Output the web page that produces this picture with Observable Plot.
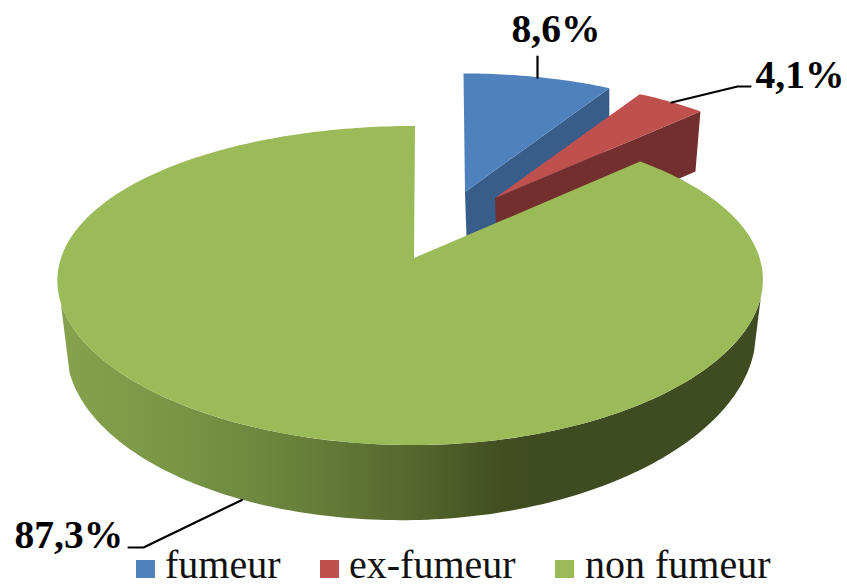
<!DOCTYPE html>
<html>
<head>
<meta charset="utf-8">
<script src="https://cdn.jsdelivr.net/npm/d3@7"></script>
<script src="https://cdn.jsdelivr.net/npm/@observablehq/plot@0.6"></script>
<style>
html,body{margin:0;padding:0;background:#fff}
#legend{position:relative;height:32px;font-family:"Liberation Serif",serif;font-size:40px;color:#111}
#legend i{position:absolute;top:4px;width:19px;height:18px}
#legend span{position:absolute;top:-7px;height:32px;line-height:32px;white-space:nowrap}
</style>
</head>
<body>
<div id="chart"></div>
<div id="legend"></div>
<script>
// ---- data
const categories = ["fumeur", "ex-fumeur", "non fumeur"];
const shares = [8.6, 4.1, 87.3];
const labels = ["8,6%", "4,1%", "87,3%"];

// ---- styles
const topColors = ["#4F81BD", "#C0504D", "#9BBB59"];
const faceColors = ["#385D8A", "#722F2D", null];
const wallStops = [68, 140, 250, 330, 420, 500, 535];
const wallColors = ["#85A14C", "#7E9A48", "#6F8A40", "#637A37", "#53652C", "#434F22", "#3F4B20"];

// ---- projection of each exploded slice (perspective disc)
const W = 847, H = 556, Q = 0.1724, QX = 0.14;
const views = [
  {ax: 465, ay: 192, k: 317, kl: 317, m: 139, sk: -1.5, depth: 60},
  {ax: 495, ay: 198, k: 315, kl: 315, m: 139, sk: 0, depth: 60},
  {ax: 414, ay: 258, k: 345.6, kl: 353, m: 154.8, sk: 1, depth: 60}
];
const rad = d => d * Math.PI / 180;
function rim(view, deg) {
  const u = Math.sin(rad(deg)), v = Math.cos(rad(deg));
  return {
    x: view.ax + (u < 0 ? view.kl : view.k) * u / (1 + QX * v) + view.sk * v,
    y: view.ay - view.m * v / (1 + Q * v),
    u, v
  };
}
// lower rim of the large slice
function lower(p) {
  return {x: p.x + 1 - 8 * p.u, y: p.y + 57.3 - 7.65 * p.u - 17.7 * p.v};
}

// slice angle ranges, clockwise from the top
let acc = 0;
const ranges = shares.map(s => { const a0 = acc; acc += s * 3.6; return [a0, acc]; });
const sampled = (a0, a1, n) => d3.range(n + 1).map(i => a0 + (a1 - a0) * i / n);

const tops = ranges.flatMap(([a0, a1], i) =>
  sampled(a0, a1, Math.ceil(a1 - a0)).map(a => {
    const p = rim(views[i], a);
    return {i, x1: p.x, y1: p.y, x2: views[i].ax, y2: views[i].ay, c: topColors[i]};
  })
);

// radial inner faces of the two small slices (trailing edge)
const faces = [0, 1].flatMap(i => {
  const v = views[i], e = rim(v, ranges[i][1]);
  return [
    {i, x1: v.ax, y1: v.ay, x2: v.ax + 2, y2: v.ay + v.depth, c: faceColors[i]},
    {i, x1: e.x, y1: e.y, x2: e.x - (i ? 5 : 0), y2: e.y + v.depth, c: faceColors[i]}
  ];
});

// outer wall of the large slice: one band painted with a horizontal gradient
const wall = sampled(104, 254, 150).map(a => {
  const p = rim(views[2], a), l = lower(p);
  return {x1: p.x, y1: p.y, x2: l.x, y2: l.y};
});
const wallGradient = () => {
  const svgNS = "http://www.w3.org/2000/svg";
  const defs = document.createElementNS(svgNS, "defs");
  const g = document.createElementNS(svgNS, "linearGradient");
  g.setAttribute("id", "wallShade");
  g.setAttribute("gradientUnits", "userSpaceOnUse");
  g.setAttribute("x1", wallStops[0]); g.setAttribute("x2", wallStops[wallStops.length - 1]);
  g.setAttribute("y1", 0); g.setAttribute("y2", 0);
  wallStops.forEach((s, i) => {
    const st = document.createElementNS(svgNS, "stop");
    st.setAttribute("offset", (s - wallStops[0]) / (wallStops[wallStops.length - 1] - wallStops[0]));
    st.setAttribute("stop-color", wallColors[i]);
    g.append(st);
  });
  defs.append(g);
  return defs;
};

// leader lines: start on the slice, elbow next to the label
const leaderShift = [0, 0, 3];
const anchorAt = i => rim(views[i], (ranges[i][0] + ranges[i][1]) / 2 + leaderShift[i]);
const elbows = [[[537, 56], [537, 56]], [[737, 86], [750, 86]], [[143, 547], [128, 547]]];
const anchors = [
  {x: elbows[0][0][0], y: anchorAt(0).y},
  anchorAt(1),
  lower(anchorAt(2))
];
const leaders = anchors.flatMap((p, i) => [
  {i, x: p.x, y: p.y}, ...elbows[i].map(e => ({i, x: e[0], y: e[1]}))
]);
const labelPlaces = [[511, 41], [755, 87], [14, 547]];
const labelRows = labels.map((t, i) => ({t, x: labelPlaces[i][0], y: labelPlaces[i][1]}));

const band = (data, z) => Plot.area(data, {x1: "x1", y1: "y1", x2: "x2", y2: "y2", z, fill: "c", curve: "linear"});

const chart = Plot.plot({
  width: W, height: H,
  marginTop: 0, marginRight: 0, marginBottom: 0, marginLeft: 0,
  x: {domain: [0, W], range: [0, W], axis: null},
  y: {domain: [0, H], range: [0, H], axis: null},
  color: {type: "identity"},
  style: {background: "#fff", overflow: "visible"},
  marks: [
    wallGradient,
    band(faces.filter(d => d.i === 0), "i"),
    band(tops.filter(d => d.i === 0), "i"),
    band(faces.filter(d => d.i === 1), "i"),
    band(tops.filter(d => d.i === 1), "i"),
    Plot.area(wall, {x1: "x1", y1: "y1", x2: "x2", y2: "y2", fill: "url(#wallShade)", curve: "linear"}),
    band(tops.filter(d => d.i === 2), "i"),
    Plot.line(leaders, {x: "x", y: "y", z: "i", stroke: "#000", strokeWidth: 2.2, curve: "linear"}),
    Plot.text(labelRows, {
      x: "x", y: "y", text: "t", textAnchor: "start", lineAnchor: "bottom",
      fontFamily: "Liberation Serif", fontWeight: "bold", fontSize: 39.5, fill: "#000"
    })
  ]
});
document.getElementById("chart").append(chart);
chart.style.display = "block";

// legend below the plot
const legendSwatch = [136, 320, 555];
const legendText = [165, 349, 585];
const legend = document.getElementById("legend");
categories.forEach((name, i) => {
  const sq = document.createElement("i");
  sq.style.left = legendSwatch[i] + "px";
  sq.style.background = topColors[i];
  legend.append(sq);
  const tx = document.createElement("span");
  tx.style.left = legendText[i] + "px";
  tx.textContent = name;
  legend.append(tx);
});
</script>
</body>
</html>
